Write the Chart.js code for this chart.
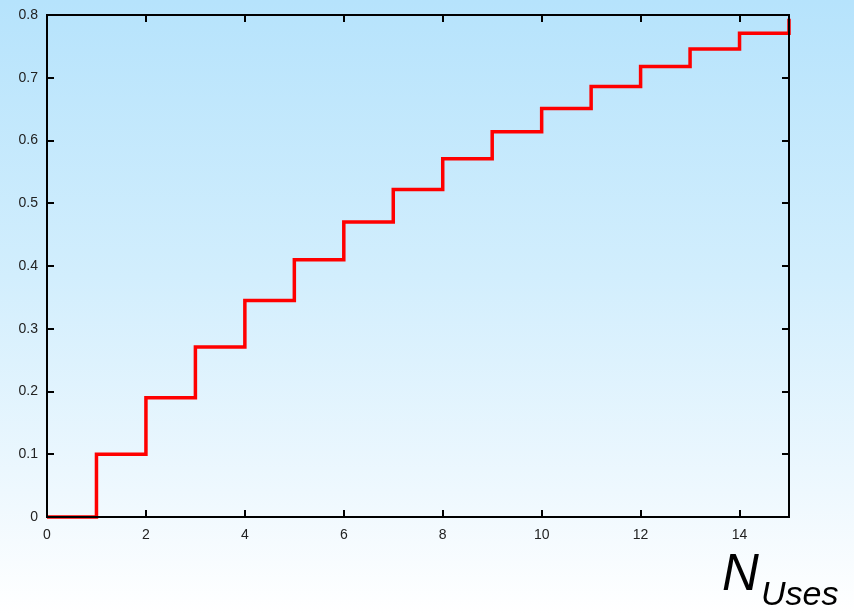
<!DOCTYPE html>
<html><head><meta charset="utf-8">
<script src="https://cdn.jsdelivr.net/npm/chart.js@4/dist/chart.umd.min.js"></script>
<style>
html,body{margin:0;padding:0;}
body{width:854px;height:614px;overflow:hidden;position:relative;
background:linear-gradient(to bottom,#b6e3fc 0%,#d2eefd 45%,#eef8fe 80%,#ffffff 100%);}
#wrap{position:absolute;left:0;top:0;width:854px;height:614px;}
.lab{position:absolute;font-family:"Liberation Sans",Arial,sans-serif;font-style:italic;color:#000;white-space:nowrap;line-height:1;}
#ln{left:722px;top:547px;font-size:51px;}
#lu{left:761px;top:576px;font-size:34px;}
</style></head>
<body>
<div id="wrap"><canvas id="c" width="854" height="614"></canvas></div>
<div class="lab" id="ln">N</div><div class="lab" id="lu">Uses</div>
<script>
const nUses = [0,1,2,3,4,5,6,7,8,9,10,11,12,13,14,15];
const prob = [0,0.100,0.190,0.271,0.345,0.410,0.470,0.522,0.571,0.614,0.651,0.686,0.718,0.746,0.771,0.794];
const xTicks = [0,2,4,6,8,10,12,14];
const yTicks = [0,0.1,0.2,0.3,0.4,0.5,0.6,0.7,0.8];

const frame = {
  id:'frame',
  afterDatasetsDraw(chart){
    const {ctx, chartArea:a, scales:{x,y}} = chart;
    ctx.save();
    ctx.strokeStyle='#000'; ctx.lineWidth=2;
    ctx.strokeRect(a.left, a.top, a.right-a.left, a.bottom-a.top);
    ctx.beginPath();
    xTicks.forEach(v=>{const px=Math.round(x.getPixelForValue(v));
      if(px<=a.left+1) return;
      ctx.moveTo(px,a.bottom); ctx.lineTo(px,a.bottom-7);
      ctx.moveTo(px,a.top); ctx.lineTo(px,a.top+7);});
    yTicks.forEach(v=>{const py=Math.round(y.getPixelForValue(v));
      if(py>=a.bottom-1||py<=a.top+1) return;
      ctx.moveTo(a.left,py); ctx.lineTo(a.left+7,py);
      ctx.moveTo(a.right,py); ctx.lineTo(a.right-7,py);});
    ctx.stroke();
    ctx.restore();
  }
};

new Chart(document.getElementById('c'),{
  type:'line',
  data:{datasets:[{data:nUses.map((n,i)=>({x:n,y:prob[i]})),
    borderColor:'#ff0000',borderWidth:3.5,pointRadius:0,stepped:'before',fill:false,clip:false}]},
  options:{
    responsive:false,animation:false,
    layout:{padding:{top:15,right:65,left:0,bottom:0}},
    plugins:{legend:{display:false},tooltip:{enabled:false}},
    scales:{
      x:{type:'linear',min:0,max:15,
        afterBuildTicks(s){s.ticks=xTicks.map(v=>({value:v}));},
        afterFit(s){s.height=97;s.paddingLeft=0;s.paddingRight=0;},
        grid:{display:false,drawTicks:false},border:{display:false},
        ticks:{padding:10,color:'#222',font:{family:'"Liberation Sans", Arial, sans-serif',size:14},maxRotation:0,autoSkip:false}},
      y:{type:'linear',min:0,max:0.8,
        afterBuildTicks(s){s.ticks=yTicks.map(v=>({value:v}));},
        afterFit(s){s.width=47;s.paddingTop=0;s.paddingBottom=0;},
        grid:{display:false,drawTicks:false},border:{display:false},
        ticks:{padding:9,color:'#222',font:{family:'"Liberation Sans", Arial, sans-serif',size:14},
          callback:v=>v===0?'0':v.toFixed(1)}}
    }
  },
  plugins:[frame]
});
</script>
</body></html>
